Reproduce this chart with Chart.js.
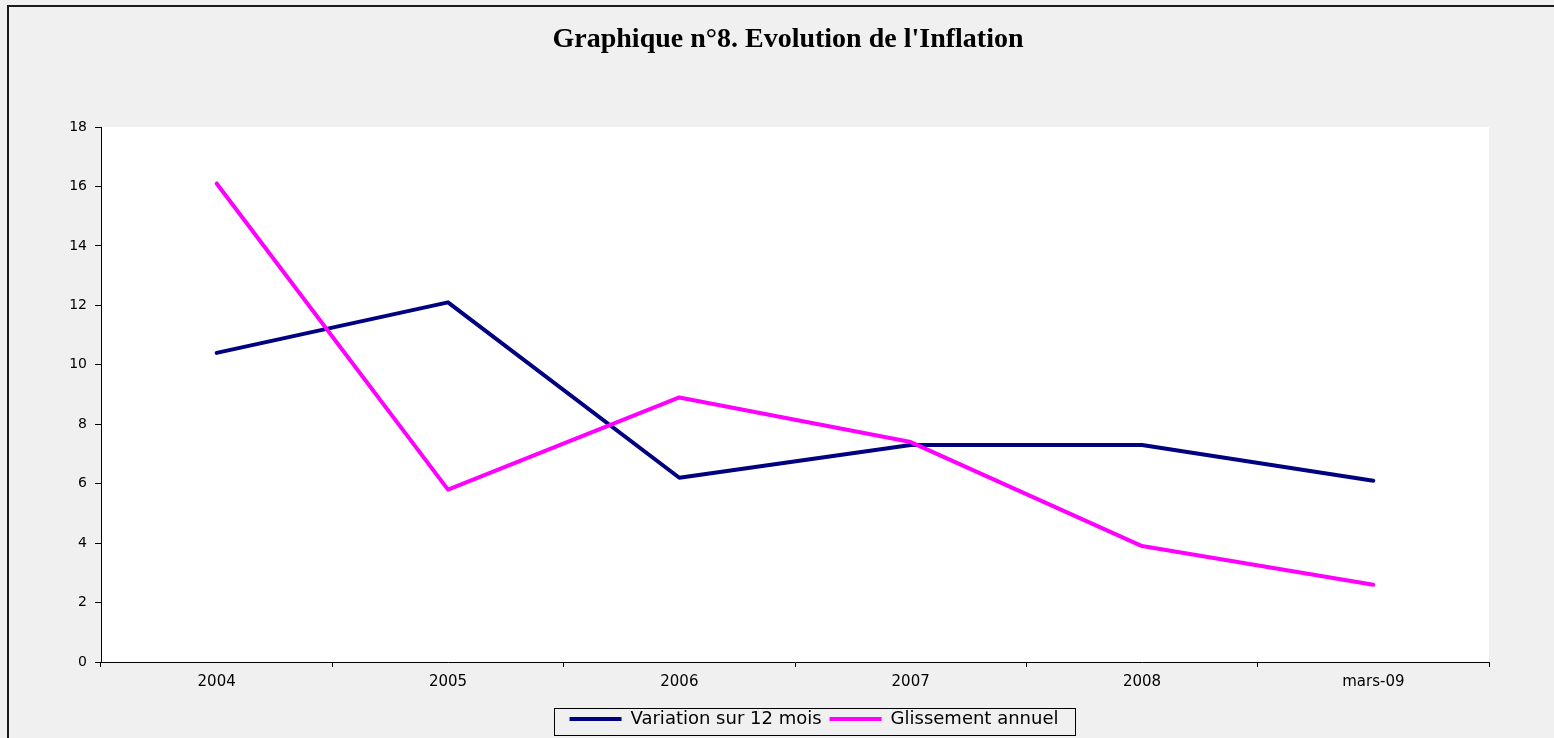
<!DOCTYPE html>
<html>
<head>
<meta charset="utf-8">
<title>Graphique n°8</title>
<script src="https://cdn.jsdelivr.net/npm/chart.js@4.4.0/dist/chart.umd.min.js"></script>
<style>
  html, body { margin: 0; padding: 0; background: #f0f0f0; }
  #wrap { width: 1554px; height: 738px; position: relative; }
</style>
</head>
<body>
<div id="wrap"><canvas id="chart"></canvas></div>
<script>
// données du graphique ==========================================================
const categories = ["2004", "2005", "2006", "2007", "2008", "mars-09"];
const variation12Mois = [10.4, 12.1, 6.2, 7.3, 7.3, 6.1];
const glissementAnnuel = [16.1, 5.8, 8.9, 7.4, 3.9, 2.6];
const yTicks = [0, 2, 4, 6, 8, 10, 12, 14, 16, 18];

// fond gris, zone de tracé blanche, cadre, cadre de la légende ===================
const decor = {
  id: 'decor',
  afterLayout(chart) {
    // titre et légende un peu décalés vers la droite comme sur l'original
    chart.titleBlock.left = 87;
    const legend = chart.legend;
    const shift = (139 - legend.left) / 2;
    legend.left = 139;
    (legend.legendHitBoxes || []).forEach(b => { b.left += shift; });
  },
  beforeDraw(chart) {
    const ctx = chart.ctx;
    const a = chart.chartArea;
    ctx.save();
    ctx.fillStyle = '#f0f0f0';
    ctx.fillRect(0, 0, chart.width, chart.height);
    ctx.fillStyle = '#ffffff';
    ctx.fillRect(a.left, a.top, a.right - a.left, a.bottom - a.top);
    ctx.restore();
  },
  afterDraw(chart) {
    const ctx = chart.ctx;
    ctx.save();
    ctx.strokeStyle = '#1a1a1a';
    ctx.lineWidth = 2;
    ctx.beginPath();
    ctx.moveTo(8, chart.height + 5);
    ctx.lineTo(8, 6);
    ctx.lineTo(chart.width + 5, 6);
    ctx.stroke();

    const boxes = chart.legend.legendHitBoxes;
    if (boxes && boxes.length) {
      const first = boxes[0];
      const last = boxes[boxes.length - 1];
      const left = first.left - 16;
      const right = last.left + last.width + 16;
      const top = first.top - 2;
      const bottom = first.top + first.height + 7;
      ctx.strokeStyle = '#000';
      ctx.lineWidth = 1;
      ctx.strokeRect(Math.round(left) + 0.5, Math.round(top) + 0.5, Math.round(right - left), Math.round(bottom - top));
    }
    ctx.restore();
  }
};

const config = {
  type: 'line',
  data: {
    labels: categories,
    datasets: [{
      label: 'Variation sur 12 mois',
      data: variation12Mois,
      borderColor: '#000080',
      backgroundColor: '#000080',
      borderWidth: 4,
      order: 1
    }, {
      label: 'Glissement annuel',
      data: glissementAnnuel,
      borderColor: '#ff00ff',
      backgroundColor: '#ff00ff',
      borderWidth: 4,
      order: 0
    }]
  },
  options: {
    responsive: true,
    maintainAspectRatio: false,
    animation: false,
    layout: { padding: { left: 22, right: 65, top: 0, bottom: 0 } },
    elements: {
      line: { tension: 0, borderCapStyle: 'round', borderJoinStyle: 'round', fill: false },
      point: { radius: 0, hoverRadius: 0 }
    },
    scales: {
      x: {
        type: 'category',
        offset: true,
        afterFit(scale) { scale.height = 40; },
        grid: { offset: true, drawOnChartArea: false, drawTicks: true, tickLength: 5, color: '#000' },
        border: { display: true, color: '#000', width: 1 },
        ticks: { color: '#000', padding: 6, font: { family: 'DejaVu Sans', size: 15 }, maxRotation: 0 }
      },
      y: {
        min: 0,
        max: 18,
        afterFit(scale) { scale.width = 79; },
        afterBuildTicks(scale) { scale.ticks = yTicks.map(v => ({ value: v })); },
        grid: { drawOnChartArea: false, drawTicks: true, tickLength: 6, color: '#000' },
        border: { display: true, color: '#000', width: 1 },
        ticks: { color: '#000', padding: 8, font: { family: 'DejaVu Sans', size: 14 } }
      }
    },
    plugins: {
      title: {
        display: true,
        text: "Graphique n°8. Evolution de l'Inflation",
        color: '#000',
        font: { family: 'Liberation Serif', size: 28, weight: 'bold' },
        padding: { top: 23.2, bottom: 70.2 }
      },
      legend: {
        display: true,
        position: 'bottom',
        labels: {
          color: '#000',
          font: { family: 'DejaVu Sans', size: 18 },
          usePointStyle: true,
          pointStyle: 'line',
          pointStyleWidth: 52,
          padding: 8,
          sort: (a, b) => a.datasetIndex - b.datasetIndex
        }
      },
      tooltip: { enabled: false }
    }
  },
  plugins: [decor]
};

const chart = new Chart(document.getElementById('chart'), config);
</script>
</body>
</html>
